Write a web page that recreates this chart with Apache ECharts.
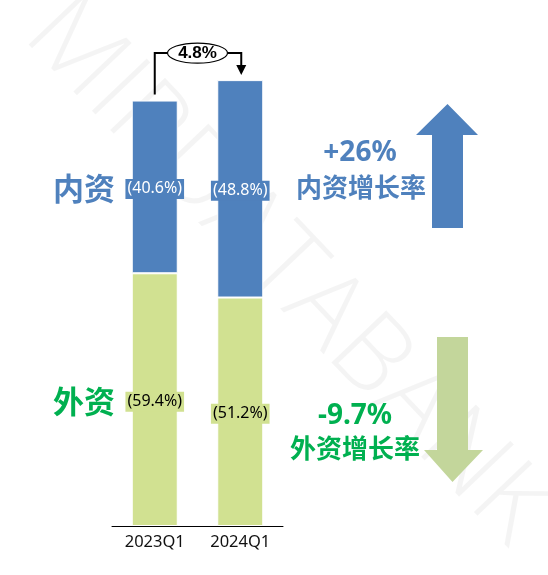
<!DOCTYPE html>
<html>
<head>
<meta charset="utf-8">
<script src="https://cdn.jsdelivr.net/npm/echarts@6/dist/echarts.min.js"></script>
<style>html,body{margin:0;padding:0;background:#fff;}#c{width:548px;height:575px;}</style>
</head>
<body>
<div id="c"></div>
<script>
const categories = ['2023Q1', '2024Q1'];
const domesticValues = [40.6, 51.1];
const foreignValues = [59.4, 53.7];
const domesticShare = ['40.6%', '48.8%'];
const foreignShare = ['59.4%', '51.2%'];
const totalGrowth = '4.8%';
const domesticGrowth = '+26%';
const foreignGrowth = '-9.7%';

const BLUE = '#4F81BD';
const LGREEN = '#D1E191';
const ARROWGREEN = '#C3D69B';
const TGREEN = '#00B050';
const CJK = '"Noto Sans CJK SC", "Noto Sans", sans-serif';
const LAT = '"Noto Sans", "Open Sans", sans-serif';

const chart = echarts.init(document.getElementById('c'), null, {renderer: 'canvas'});

const option = {
  animation: false,
  backgroundColor: '#fff',
  grid: {left: 112, width: 171, top: 58, bottom: 49, containLabel: false},
  xAxis: {
    type: 'category',
    data: categories,
    axisLine: {lineStyle: {color: '#000', width: 1}},
    axisTick: {show: false},
    axisLabel: {color: '#111', fontSize: 16.5, fontFamily: LAT, margin: 8}
  },
  yAxis: {type: 'value', min: 0, max: 110, show: false, splitLine: {show: false}},
  series: [
    {
      name: '外资', type: 'bar', stack: 't', barWidth: 46,
      data: foreignValues,
      itemStyle: {color: LGREEN, borderColor: '#fff', borderWidth: 1},
      label: {
        show: true, position: 'inside', offset: [0, 2],
        formatter: p => '(' + foreignShare[p.dataIndex] + ')',
        color: '#000', fontSize: 16, fontFamily: LAT, lineHeight: 18,
        backgroundColor: LGREEN, padding: [1, 2]
      }
    },
    {
      name: '内资', type: 'bar', stack: 't', barWidth: 46,
      data: domesticValues,
      itemStyle: {color: BLUE, borderColor: '#fff', borderWidth: 1},
      label: {
        show: true, position: 'inside', offset: [0, 2],
        formatter: p => '(' + domesticShare[p.dataIndex] + ')',
        color: '#fff', fontSize: 16, fontFamily: LAT, lineHeight: 18,
        backgroundColor: BLUE, padding: [1, 2]
      }
    }
  ]
};
chart.setOption(option);

const top1 = chart.convertToPixel({gridIndex: 0}, [0, domesticValues[0] + foreignValues[0]]);
const top2 = chart.convertToPixel({gridIndex: 0}, [1, domesticValues[1] + foreignValues[1]]);

const bY = top2[1] - 27;
const ex = (top1[0] + top2[0]) / 2;
const erx = 30, ery = 10;

chart.setOption({
  graphic: [
    // watermark
    {
      type: 'text', x: 287, y: 272, rotation: -0.81, z: 0, silent: true,
      style: {
        text: 'MIRDATABANK', fill: 'rgba(0,0,0,0.045)', font: '300 106px "Open Sans", sans-serif',
        align: 'center', verticalAlign: 'middle'
      }
    },
    // bracket
    {
      type: 'polyline', z: 10,
      shape: {points: [[top1[0], top1[1] - 6], [top1[0], bY], [ex - erx, bY]]},
      style: {stroke: '#000', lineWidth: 2, fill: null}
    },
    {
      type: 'polyline', z: 10,
      shape: {points: [[ex + erx, bY], [top2[0] + 1, bY], [top2[0] + 1, top2[1] - 14]]},
      style: {stroke: '#000', lineWidth: 2, fill: null}
    },
    {
      type: 'polygon', z: 10,
      shape: {points: [[top2[0] - 4, top2[1] - 15], [top2[0] + 6, top2[1] - 15], [top2[0] + 1, top2[1] - 5]]},
      style: {fill: '#000'}
    },
    {
      type: 'ellipse', z: 10,
      shape: {cx: ex, cy: bY, rx: erx, ry: ery},
      style: {fill: '#fff', stroke: '#000', lineWidth: 1.2}
    },
    {
      type: 'text', z: 11, x: ex, y: bY,
      style: {text: totalGrowth, font: 'bold 17px "Liberation Sans", Arial, sans-serif', fill: '#000', align: 'center', verticalAlign: 'middle'}
    },
    // left category labels
    {
      type: 'text', z: 10, x: 84, y: 188,
      style: {text: '内资', font: 'bold 31px ' + CJK, fill: BLUE, align: 'center', verticalAlign: 'middle'}
    },
    {
      type: 'text', z: 10, x: 84, y: 401,
      style: {text: '外资', font: 'bold 31px ' + CJK, fill: TGREEN, align: 'center', verticalAlign: 'middle'}
    },
    // right texts
    {
      type: 'text', z: 10, x: 360, y: 153,
      style: {text: domesticGrowth, font: 'bold 28px ' + LAT, fill: BLUE, align: 'center', verticalAlign: 'middle'}
    },
    {
      type: 'text', z: 10, x: 361, y: 187,
      style: {text: '内资增长率', font: 'bold 26px ' + CJK, fill: BLUE, align: 'center', verticalAlign: 'middle'}
    },
    {
      type: 'text', z: 10, x: 355, y: 416,
      style: {text: foreignGrowth, font: 'bold 28px ' + LAT, fill: TGREEN, align: 'center', verticalAlign: 'middle'}
    },
    {
      type: 'text', z: 10, x: 355, y: 448,
      style: {text: '外资增长率', font: 'bold 26px ' + CJK, fill: TGREEN, align: 'center', verticalAlign: 'middle'}
    },
    // up arrow
    {
      type: 'polygon', z: 5,
      shape: {points: [[447.5, 104], [478, 135], [463, 135], [463, 228], [432, 228], [432, 135], [416, 135]]},
      style: {fill: BLUE}
    },
    // down arrow
    {
      type: 'polygon', z: 5,
      shape: {points: [[437, 337], [468, 337], [468, 450], [483, 450], [452.5, 482], [424, 450], [437, 450]]},
      style: {fill: ARROWGREEN}
    }
  ]
});
</script>
</body>
</html>
